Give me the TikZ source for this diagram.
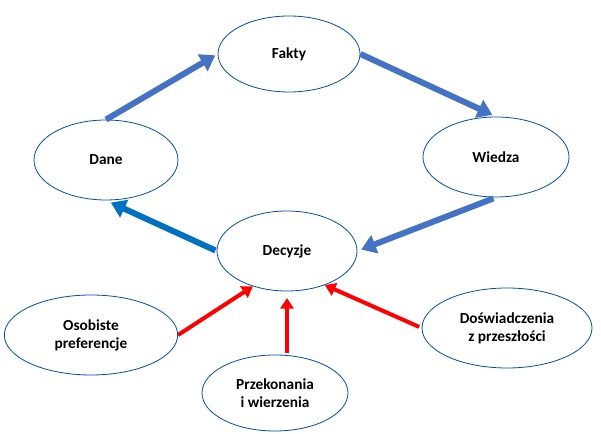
\documentclass[tikz,border=0pt]{standalone}
\usepackage{fontspec}
\setmainfont{Carlito}
\usetikzlibrary{arrows.meta,shapes.geometric}
\begin{document}
\begin{tikzpicture}[x=0.75pt,y=-0.75pt,
  el/.style={ellipse,draw=blue!60!black!70!cyan,line width=0.6pt,fill=white,align=center,font=\fontsize{11.5}{13.5}\selectfont\bfseries,inner sep=0pt},
  barrow/.style={color={rgb,255:red,68;green,114;blue,196},line width=4.5pt,-{Triangle[width=14pt,length=11pt]}},
  rarrow/.style={color=red,line width=3pt,-{Triangle[width=10pt,length=8pt]}}]
\useasboundingbox (0,0) rectangle (601,434);
\node[el,minimum width=106.5pt,minimum height=57pt] (fakty) at (289,54) {Fakty};
\node[el,minimum width=108pt,minimum height=60pt] (dane) at (106,160) {Dane};
\node[el,minimum width=109.5pt,minimum height=60pt] (wiedza) at (496,157) {Wiedza};
\node[el,minimum width=105pt,minimum height=60pt] (decyzje) at (287,251) {Decyzje};
\node[el,minimum width=130pt,minimum height=60pt] (osob) at (91,335) {Osobiste\\preferencje};
\node[el,minimum width=109.5pt,minimum height=57pt] (przek) at (275,393) {Przekonania\\i wierzenia};
\node[el,minimum width=127.5pt,minimum height=60pt] (dosw) at (507,328) {Doświadczenia\\z przeszłości};
\draw[barrow,shorten >=2pt] (dane.north) -- (fakty.west);
\draw[barrow,shorten >=3pt] (fakty.east) -- (wiedza.north);
\draw[barrow,shorten <=2pt,shorten >=3pt] (wiedza.south) -- (decyzje.east);
\draw[barrow,color={rgb,255:red,0;green,112;blue,192},shorten <=1pt,shorten >=4pt] (decyzje.west) -- (dane.south);
\draw[rarrow] (osob.east) -- (decyzje.226);
\draw[rarrow,shorten <=1pt,shorten >=5pt] (przek.north -| decyzje.south) -- (decyzje.south);
\draw[rarrow,shorten <=2pt] (dosw.west) -- (decyzje.318);
\end{tikzpicture}
\end{document}
